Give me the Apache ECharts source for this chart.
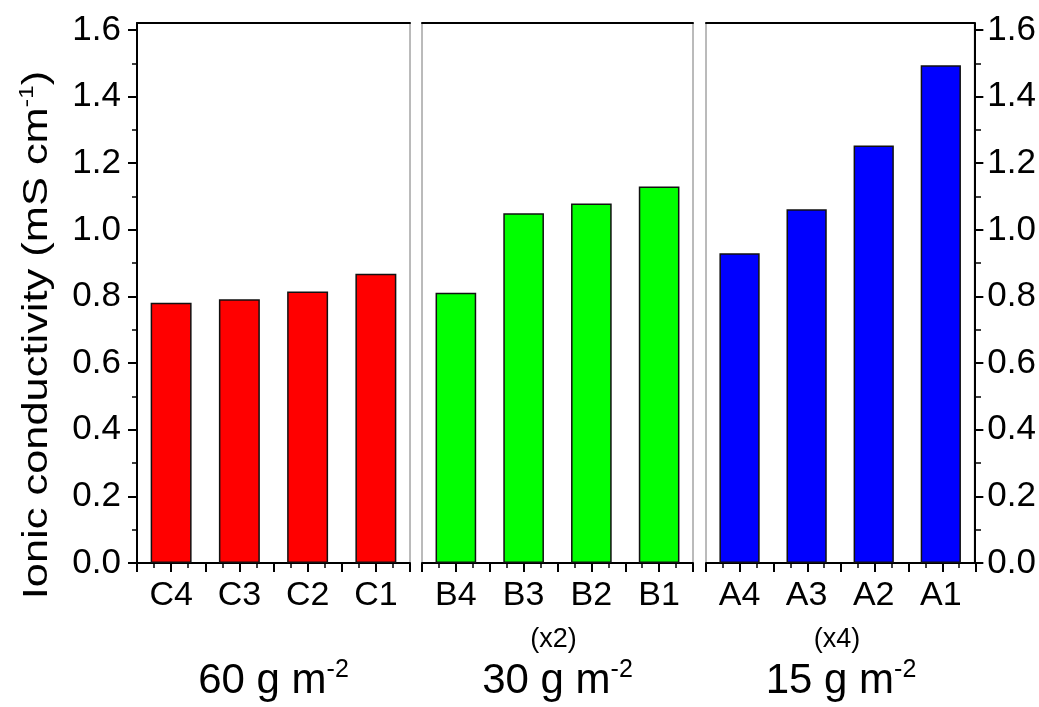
<!DOCTYPE html>
<html><head><meta charset="utf-8">
<script src="https://cdn.jsdelivr.net/npm/echarts@6/dist/echarts.min.js"></script>
<style>html,body{margin:0;padding:0;background:#fff}#c{width:1039px;height:707px}</style>
</head><body><div id="c"></div>
<script>
// ---- data ----
const catsC = ['C4', 'C3', 'C2', 'C1'];
const catsB = ['B4', 'B3', 'B2', 'B1'];
const catsA = ['A4', 'A3', 'A2', 'A1'];
const valsC = [0.781, 0.792, 0.815, 0.868];
const valsB = [0.811, 1.050, 1.079, 1.130];
const valsA = [0.930, 1.062, 1.253, 1.494];
const yMajorTicks = [0, 0.2, 0.4, 0.6, 0.8, 1.0, 1.2, 1.4, 1.6];
const yMinorTicks = [0.1, 0.3, 0.5, 0.7, 0.9, 1.1, 1.3, 1.5];
const groupNames = ['60 g m', '30 g m', '15 g m'];
const groupSup = ['-2', '-2', '-2'];
const groupMult = ['', '(x2)', '(x4)'];
const yTitle = 'Ionic conductivity (mS cm';
const yTitleSup = '-1';

// ---- layout / style ----
const F = 'Liberation Sans, Arial, sans-serif';
const colors = ['#ff0000', '#00ff00', '#0000ff'];
const panels = [
  { left: 137, width: 273 },
  { left: 422, width: 271 },
  { left: 706, width: 270 }
];
const TOP = 23, HEIGHT = 540;
const YMAX = 1.621;
const cats = [catsC, catsB, catsA];
const vals = [valsC, valsB, valsA];

const grid = [], xAxis = [], yAxis = [], series = [];
panels.forEach((p, i) => {
  grid.push({ left: p.left, width: p.width, top: TOP, height: HEIGHT, show: true,
    borderColor: '#777', borderWidth: 1, backgroundColor: 'transparent' });
  grid.push({ left: p.left, width: p.width, top: TOP, height: HEIGHT, show: false });
});
panels.forEach((p, i) => {
  const gA = 2 * i, gB = 2 * i + 1;
  const showY = i !== 1;
  const ypos = i === 2 ? 'right' : 'left';
  xAxis.push({ type: 'category', gridIndex: gA, position: 'bottom', data: cats[i],
    axisLine: { show: true, onZero: false, lineStyle: { color: '#000', width: 2 } },
    axisTick: { show: false },
    axisLabel: { color: '#000', fontSize: 34, fontFamily: F, margin: 16 },
    splitLine: { show: false } });
  xAxis.push({ type: 'category', gridIndex: gA, position: 'top', data: cats[i],
    axisLine: { show: true, onZero: false, lineStyle: { color: '#000', width: 2 } },
    axisTick: { show: false }, axisLabel: { show: false }, splitLine: { show: false } });
  xAxis.push({ type: 'value', gridIndex: gB, position: 'bottom', min: 0, max: 4, interval: 0.5,
    axisLine: { show: false, onZero: false },
    axisTick: { show: true, length: 9, lineStyle: { color: '#000', width: 2 } },
    minorTick: { show: true, splitNumber: 2, length: 5, lineStyle: { color: '#000', width: 1.5 } },
    axisLabel: { show: false }, splitLine: { show: false }, minorSplitLine: { show: false } });
  yAxis.push({ type: 'value', gridIndex: gA, position: ypos, min: 0, max: YMAX,
    axisLine: { show: showY, onZero: false, lineStyle: { color: '#000', width: 2 } },
    axisTick: { show: showY, length: 9, customValues: yMajorTicks, lineStyle: { color: '#000', width: 2 } },
    axisLabel: { show: showY, customValues: yMajorTicks, color: '#000', fontSize: 35, fontFamily: F,
      margin: i === 2 ? 13 : 16, formatter: v => v.toFixed(1) },
    splitLine: { show: false } });
  yAxis.push({ type: 'value', gridIndex: gB, position: ypos, min: 0, max: YMAX,
    axisLine: { show: false, onZero: false },
    axisTick: { show: showY, length: 5, customValues: yMinorTicks, lineStyle: { color: '#000', width: 1.5 } },
    axisLabel: { show: false }, splitLine: { show: false } });
  series.push({ type: 'bar', xAxisIndex: 3 * i, yAxisIndex: 2 * i, data: vals[i],
    barWidth: '60%',
    itemStyle: { color: colors[i], borderColor: '#111', borderWidth: 1.5 } });
});

const graphic = [
  { type: 'text', x: 37, y: 335, rotation: Math.PI / 2, scaleX: 1.24, scaleY: 1,
    style: { text: '{m|' + yTitle + '}{s|' + yTitleSup + '}{m|)}', align: 'center', verticalAlign: 'middle', fill: '#000',
      rich: { m: { fontSize: 35, fontFamily: F, lineHeight: 40, fill: '#000' },
              s: { fontSize: 20, fontFamily: F, lineHeight: 20, verticalAlign: 'top', fill: '#000' } } } }
];
panels.forEach((p, i) => {
  const cx = p.left + p.width / 2;
  graphic.push({ type: 'text', x: cx, y: 681,
    style: { text: '{m|' + groupNames[i] + '}{s|' + groupSup[i] + '}', align: 'center', verticalAlign: 'middle', fill: '#000',
      rich: { m: { fontSize: 42, fontFamily: F, lineHeight: 46, fill: '#000' },
              s: { fontSize: 25, fontFamily: F, lineHeight: 25, verticalAlign: 'top', fill: '#000' } } } });
  if (groupMult[i]) {
    graphic.push({ type: 'text', x: cx - 4, y: 640,
      style: { text: groupMult[i], align: 'center', verticalAlign: 'middle', fill: '#000', fontSize: 27, fontFamily: F } });
  }
});

const chart = echarts.init(document.getElementById('c'), null, { renderer: 'canvas' });
chart.setOption({ animation: false, backgroundColor: '#fff', grid, xAxis, yAxis, series, graphic });
</script></body></html>
